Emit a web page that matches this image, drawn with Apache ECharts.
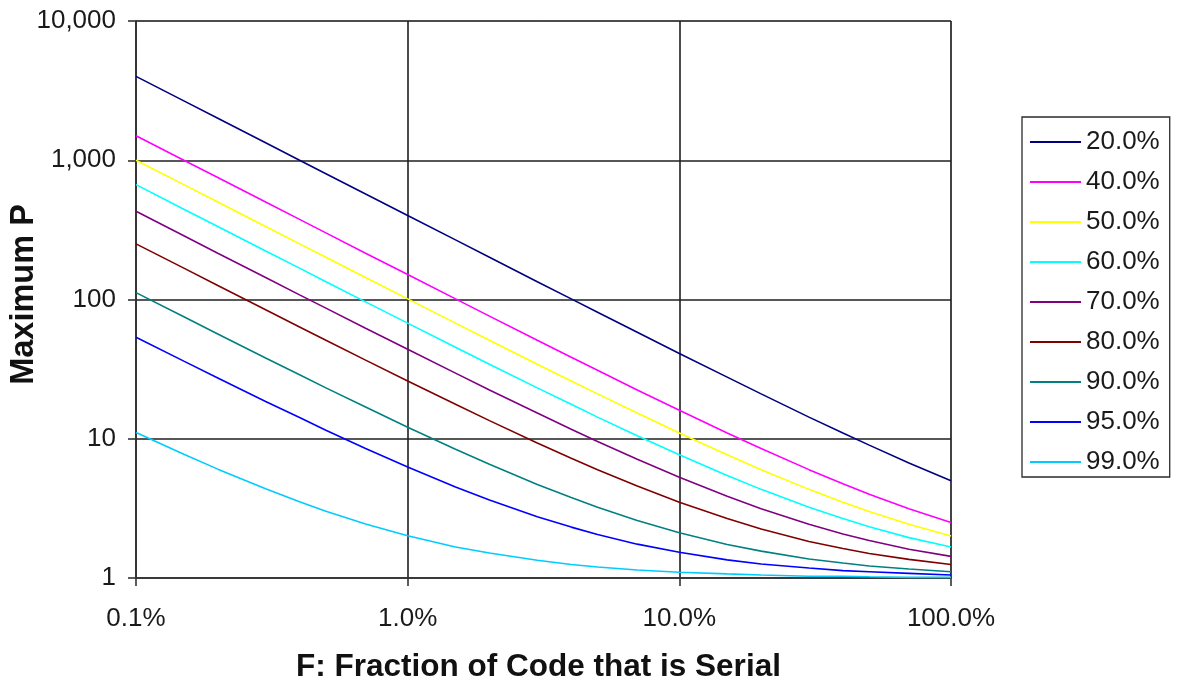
<!DOCTYPE html>
<html>
<head>
<meta charset="utf-8">
<title>Maximum P vs serial fraction</title>
<script src="https://cdn.jsdelivr.net/npm/echarts@6/dist/echarts.min.js"></script>
<style>
  html, body { margin: 0; padding: 0; background: #fff; }
  #chart { width: 1177px; height: 684px; }
</style>
</head>
<body>
<div id="chart"></div>
<script>
// F: fraction of code that is serial (x values)
const serialFraction = [0.001, 0.0015, 0.002, 0.003, 0.004, 0.005, 0.007,
  0.01, 0.015, 0.02, 0.03, 0.04, 0.05, 0.07,
  0.1, 0.15, 0.2, 0.3, 0.4, 0.5, 0.7, 1];

// Efficiency levels shown in the legend
const efficiencyNames = ['20.0%', '40.0%', '50.0%', '60.0%', '70.0%', '80.0%', '90.0%', '95.0%', '99.0%'];

// Maximum P for each efficiency level, one value per serial fraction
const p20 = [4001, 2668, 2001, 1334, 1001, 801, 572, 401, 268, 201, 134, 101, 81, 58.1, 41, 27.7, 21, 14.3, 11, 9, 6.7, 5];
const p40 = [1501, 1001, 751, 501, 376, 301, 215, 151, 101, 76, 51, 38.5, 31, 22.4, 16, 11, 8.5, 6, 4.75, 4, 3.14, 2.5];
const p50 = [1001, 668, 501, 334, 251, 201, 144, 101, 67.7, 51, 34.3, 26, 21, 15.3, 11, 7.67, 6, 4.33, 3.5, 3, 2.43, 2];
const p60 = [668, 445, 334, 223, 168, 134, 96.2, 67.7, 45.4, 34.3, 23.2, 17.7, 14.3, 10.5, 7.67, 5.44, 4.33, 3.22, 2.67, 2.33, 1.95, 1.67];
const p70 = [430, 287, 215, 144, 108, 86.7, 62.2, 43.9, 29.6, 22.4, 15.3, 11.7, 9.57, 7.12, 5.29, 3.86, 3.14, 2.43, 2.07, 1.86, 1.61, 1.43];
const p80 = [251, 168, 126, 84.3, 63.5, 51, 36.7, 26, 17.7, 13.5, 9.33, 7.25, 6, 4.57, 3.5, 2.67, 2.25, 1.83, 1.63, 1.5, 1.36, 1.25];
const p90 = [112, 75.1, 56.6, 38, 28.8, 23.2, 16.9, 12.1, 8.41, 6.56, 4.7, 3.78, 3.22, 2.59, 2.11, 1.74, 1.56, 1.37, 1.28, 1.22, 1.16, 1.11];
const p95 = [53.6, 36.1, 27.3, 18.5, 14.2, 11.5, 8.52, 6.26, 4.51, 3.63, 2.75, 2.32, 2.05, 1.75, 1.53, 1.35, 1.26, 1.18, 1.13, 1.11, 1.08, 1.05];
const p99 = [11.1, 7.73, 6.05, 4.37, 3.53, 3.02, 2.44, 2.01, 1.67, 1.51, 1.34, 1.25, 1.2, 1.14, 1.1, 1.07, 1.05, 1.03, 1.03, 1.02, 1.01, 1.01];

const seriesValues = [p20, p40, p50, p60, p70, p80, p90, p95, p99];

// Line colours, in legend order
const lineColors = ['#000080', '#FF00FF', '#FFFF00', '#00FFFF', '#800080', '#800000', '#008080', '#0000FF', '#00CCFF'];

const FONT = '"Liberation Sans", Arial, sans-serif';

function withCommas(v) {
  return String(Math.round(v)).replace(/\B(?=(\d{3})+(?!\d))/g, ',');
}

const chart = echarts.init(document.getElementById('chart'), null, { renderer: 'canvas' });

chart.setOption({
  animation: false,
  backgroundColor: '#ffffff',
  grid: {
    left: 136, right: 226, top: 21, bottom: 106,
    outerBoundsMode: 'none',
    containLabel: false,
    show: true,
    borderColor: '#a6a6a6',
    borderWidth: 1
  },
  legend: {
    orient: 'vertical',
    left: 1022,
    top: 117,
    width: 148,
    padding: [12, 10, 2, 8],
    itemGap: 14,
    itemWidth: 51,
    itemHeight: 2,
    icon: 'rect',
    borderColor: '#2b2b2b',
    borderWidth: 1.3,
    textStyle: { fontFamily: FONT, fontSize: 26, color: '#1a1a1a', lineHeight: 26 },
    data: efficiencyNames
  },
  xAxis: {
    type: 'log',
    logBase: 10,
    min: 0.001,
    max: 1,
    name: 'F: Fraction of Code that is Serial',
    nameLocation: 'middle',
    nameGap: 73,
    nameMoveOverlap: false,
    nameTextStyle: { fontFamily: FONT, fontSize: 31.5, fontWeight: 'bold', color: '#111', padding: [0, 10, 0, 0] },
    axisLine: { show: true, onZero: false, lineStyle: { color: '#333', width: 1.6 } },
    axisTick: { show: true, inside: false, length: 8, lineStyle: { color: '#333', width: 1.6 } },
    axisLabel: {
      margin: 28,
      fontFamily: FONT, fontSize: 26, color: '#1a1a1a',
      formatter: v => (v * 100).toFixed(1) + '%'
    },
    splitLine: { show: true, lineStyle: { color: '#1f1f1f', width: 1.6 } },
    minorTick: { show: false },
    minorSplitLine: { show: false }
  },
  yAxis: {
    type: 'log',
    logBase: 10,
    min: 1,
    max: 10000,
    name: 'Maximum P',
    nameLocation: 'middle',
    nameGap: 95,
    nameMoveOverlap: false,
    nameRotate: 90,
    nameTextStyle: { fontFamily: FONT, fontSize: 32.5, fontWeight: 'bold', color: '#111', padding: [0, 0, 0, 10] },
    axisLine: { show: true, onZero: false, lineStyle: { color: '#333', width: 1.6 } },
    axisTick: { show: true, inside: false, length: 8, lineStyle: { color: '#333', width: 1.6 } },
    axisLabel: {
      margin: 20,
      fontFamily: FONT, fontSize: 26, color: '#1a1a1a',
      formatter: v => withCommas(v)
    },
    splitLine: { show: true, lineStyle: { color: '#1f1f1f', width: 1.6 } }
  },
  series: efficiencyNames.map((name, i) => ({
    name: name,
    type: 'line',
    symbol: 'none',
    smooth: false,
    color: lineColors[i],
    lineStyle: { color: lineColors[i], width: 1.6 },
    data: serialFraction.map((f, j) => [f, seriesValues[i][j]])
  }))
});
</script>
</body>
</html>
